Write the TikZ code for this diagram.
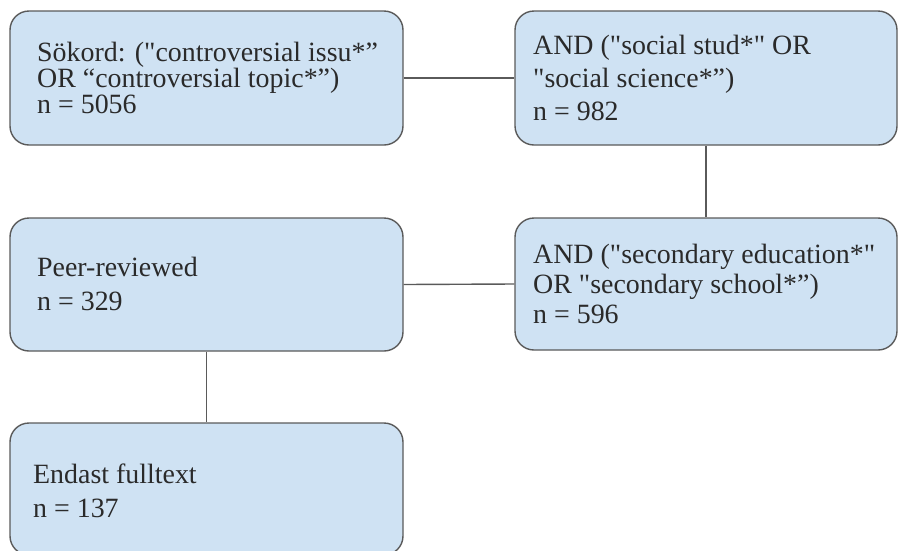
\documentclass[tikz,border=0pt]{standalone}
\usepackage{fontspec}
\setmainfont{Liberation Serif}[Ligatures=TeXOff]
\definecolor{boxfill}{HTML}{CFE2F3}
\definecolor{boxline}{HTML}{5A5A5A}
\definecolor{txtcol}{HTML}{2A2A2A}
\tikzset{
  box/.style={draw=boxline, fill=boxfill, line width=1.4pt, rounded corners=19pt, inner sep=0pt, minimum width=#1},
  txt/.style={anchor=base west, inner sep=0pt, align=left, text=txtcol, font=\fontsize{27.9}{#1}\selectfont},
  link/.style={draw=boxline, line width=1.4pt}
}
\begin{document}
\begin{tikzpicture}[x=1pt,y=-1pt]
\useasboundingbox (0,0) rectangle (898,550);
\node[box=393pt, minimum height=134pt] (b1) at (206.5,78) {};
\node[box=382pt, minimum height=134pt] (b2) at (706,78) {};
\node[box=382pt, minimum height=132pt] (b3) at (706,284) {};
\node[box=393pt, minimum height=133pt] (b4) at (206.5,284.5) {};
\node[box=393pt, minimum height=132pt] (b5) at (206.5,489) {};
\node[txt=26pt] (t1) at (37,113) {Sökord: ("controversial issu*”\\OR “controversial topic*”)\\n = 5056};
\node[txt=33pt] (t2) at (533,120) {AND ("social stud*" OR\\"social science*”)\\n = 982};
\node[txt=30pt] (t3) at (533,323) {AND ("secondary education*"\\OR "secondary school*”)\\n = 596};
\node[txt=34pt] (t4) at (37,310) {Peer-reviewed\\n = 329};
\node[txt=34pt] (t5) at (33,517) {Endast fulltext\\n = 137};
\draw[link] (b1.east) -- (b2.west);
\draw[link] (b2.south) -- (b3.north);
\draw[link] (b4.east) -- (b3.west);
\draw[link] (b4.south) -- (b5.north);
\end{tikzpicture}
\end{document}
